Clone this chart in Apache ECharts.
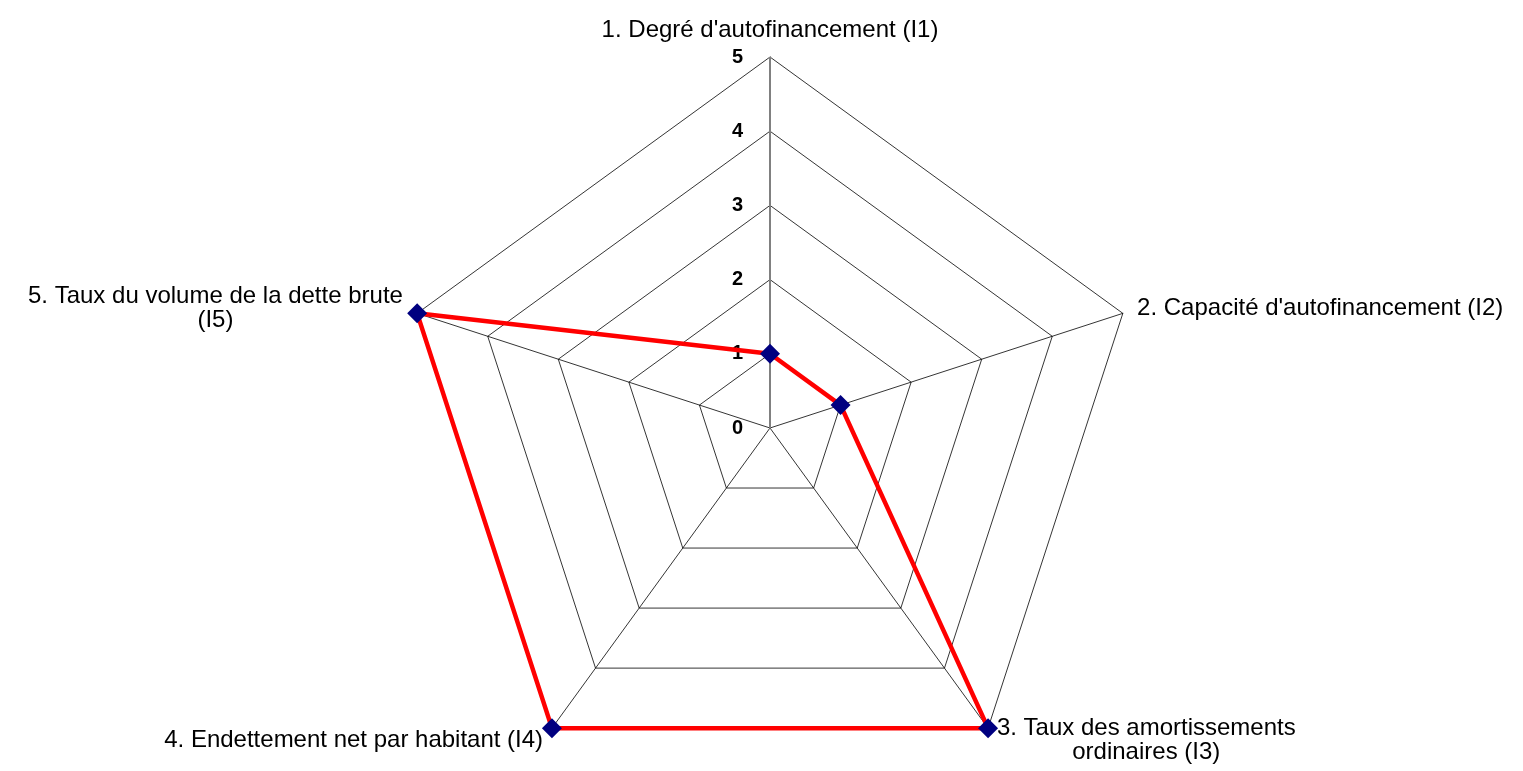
<!DOCTYPE html>
<html><head><meta charset="utf-8">
<script src="https://cdn.jsdelivr.net/npm/echarts@6/dist/echarts.min.js"></script>
<style>html,body{margin:0;padding:0;background:#fff}#c{width:1523px;height:771px}</style>
</head><body><div id="c"></div>
<script>
const indicatorNames = [
  "1. Degré d'autofinancement (I1)",
  "2. Capacité d'autofinancement (I2)",
  "3. Taux des amortissements\nordinaires (I3)",
  "4. Endettement net par habitant (I4)",
  "5. Taux du volume de la dette brute\n(I5)"
];
const axisMax = 5;
const seriesValues = [1, 1, 5, 5, 5];
const axisRefLine = [5, 0, 0, 0, 0];

// ECharts lays indicators counter-clockwise; reorder so that they run clockwise like the reference
const order = [0, 4, 3, 2, 1];
const reorder = arr => order.map(i => arr[i]);

const FONT = 'Liberation Sans, Arial, sans-serif';
const chart = echarts.init(document.getElementById('c'));
chart.setOption({
  animation: false,
  radar: {
    center: [770, 428],
    radius: 371,
    shape: 'polygon',
    splitNumber: 5,
    startAngle: 90,
    indicator: reorder(indicatorNames).map((n, i) => i === 0
      ? { name: n, min: 0, max: axisMax, axisLabel: { show: true } }
      : { name: n, min: 0, max: axisMax }),
    axisName: {
      color: '#000', fontFamily: FONT, fontSize: 24, lineHeight: 24,
      formatter: v => v.split('\n').map(l => '{c|' + l + '}').join('\n'),
      rich: { c: { align: 'center', color: '#000', fontFamily: FONT, fontSize: 24, lineHeight: 24 } }
    },
    nameGap: 15,
    splitArea: { show: false },
    splitLine: { lineStyle: { color: '#000', width: 0.8 } },
    axisLine: { lineStyle: { color: '#000', width: 0.8 } },
    axisTick: { show: false },
    axisLabel: { show: false, color: '#000', fontWeight: 'bold', fontSize: 20, fontFamily: FONT, margin: 27 }
  },
  series: [{
    type: 'radar',
    silent: true,
    symbol: 'none',
    lineStyle: { color: '#808080', width: 2 },
    data: [{ value: reorder(axisRefLine) }]
  }, {
    type: 'radar',
    symbol: 'diamond',
    symbolSize: 20,
    itemStyle: { color: '#000080' },
    lineStyle: { color: '#ff0000', width: 4.5 },
    data: [{ value: reorder(seriesValues) }]
  }]
});
</script></body></html>
